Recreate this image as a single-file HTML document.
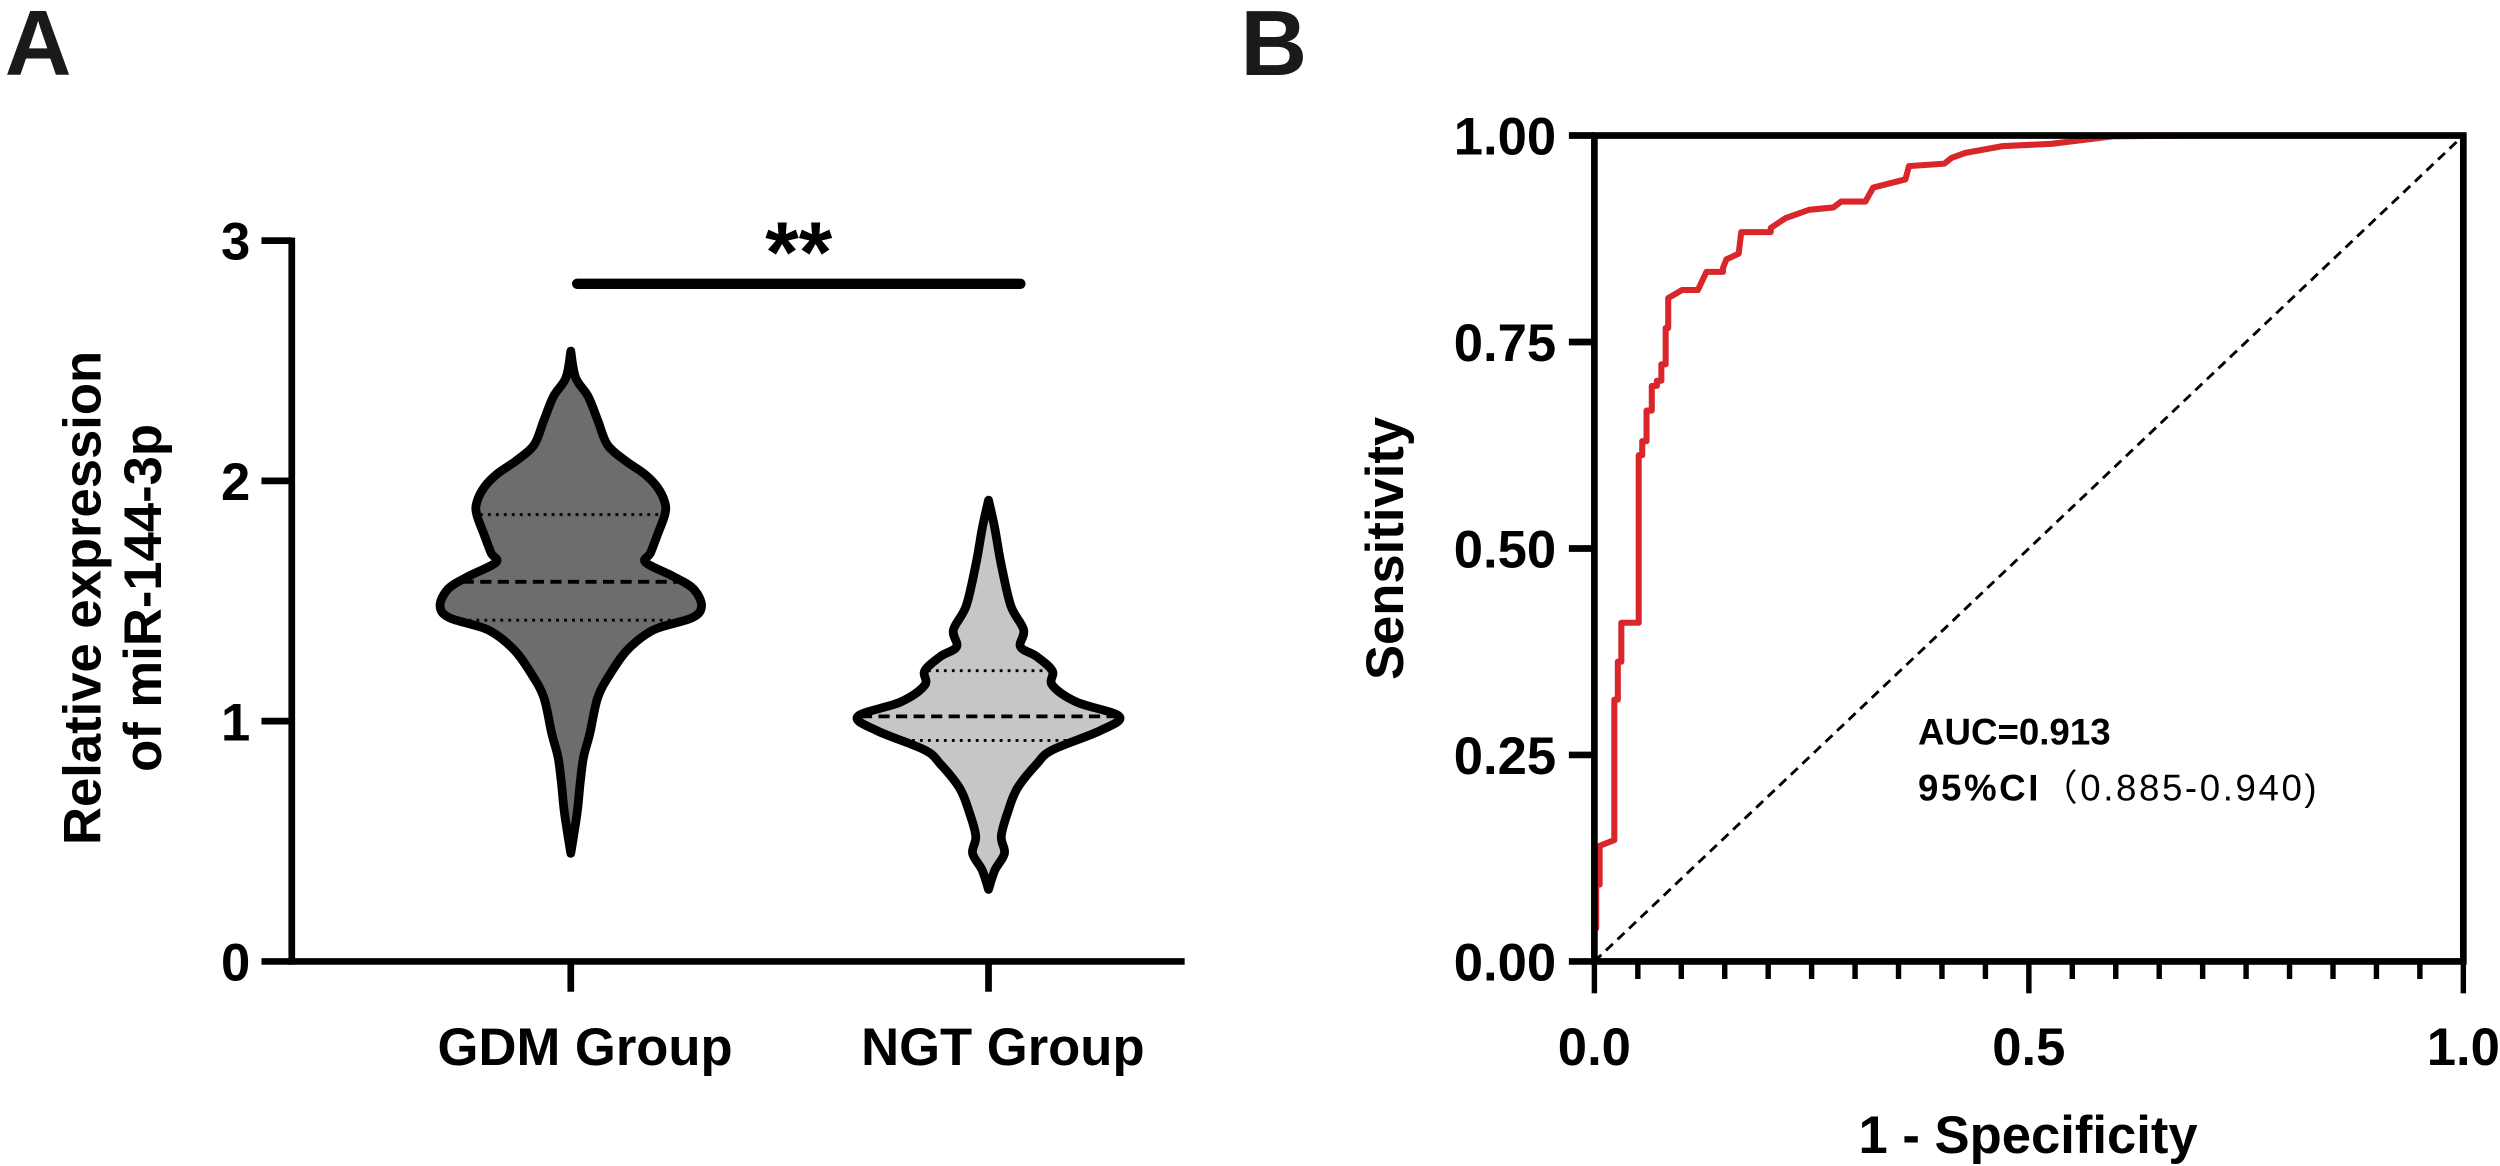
<!DOCTYPE html>
<html><head><meta charset="utf-8"><style>
html,body{margin:0;padding:0;background:#fff;}
svg{display:block;font-family:"Liberation Sans",Arial,sans-serif;}
</style></head><body>
<svg id="fig" width="2500" height="1166" viewBox="0 0 1568 731.3" preserveAspectRatio="none" xmlns="http://www.w3.org/2000/svg">
<text x="3" y="47" font-size="58" font-weight="bold" fill="#1a1a1a">A</text>
<text x="778" y="47" font-size="58" font-weight="bold" fill="#1a1a1a">B</text>
<g id="pa"></g>
<g id="pb"></g>
</svg>
<script>
// ---- Panel A data ----
const groups = ["GDM Group", "NGT Group"];
const gdmValues = [2.54,2.43,2.35,2.25,2.15,2.085,2.03,1.976,1.91,1.86,1.77,1.70,1.66,1.60,1.55,1.48,1.43,1.38,1.30,1.20,1.10,0.95,0.85,0.75,0.62,0.45];
const gdmDensity = [0,3,11,17,23,34,46,54,59,59,54,50,47,65,77,82,76,52,36,25,17,12,8,6,4,0];
const ngtValues = [1.92,1.80,1.65,1.48,1.38,1.31,1.27,1.21,1.15,1.08,1.02,0.96,0.88,0.82,0.72,0.62,0.52,0.45,0.38,0.30];
const ngtDensity = [0,4,8,14,22,20,30,40,40,55,82,70,40,30,18,12,8,10,4,0];
const gdmQuartiles = [1.42,1.58,1.86];
const ngtQuartiles = [0.92,1.02,1.21];
const yTicksA = [0,1,2,3];
// ---- Panel B data ----
const rocFpr = [0,0,0.002,0.002,0.006,0.006,0.023,0.023,0.027,0.027,0.031,0.031,0.051,0.051,0.055,0.055,0.060,0.060,0.066,0.066,0.072,0.072,0.077,0.077,0.082,0.082,0.085,0.085,0.101,0.119,0.129,0.148,0.148,0.152,0.166,0.166,0.169,0.203,0.203,0.220,0.247,0.275,0.284,0.312,0.321,0.358,0.362,0.403,0.411,0.427,0.469,0.526,0.596,0.70,1.0];
const rocTpr = [0,0.04,0.04,0.093,0.093,0.140,0.147,0.317,0.317,0.363,0.363,0.41,0.41,0.613,0.613,0.63,0.63,0.667,0.667,0.697,0.697,0.703,0.703,0.723,0.723,0.767,0.767,0.803,0.813,0.813,0.835,0.835,0.840,0.850,0.857,0.857,0.883,0.883,0.888,0.900,0.910,0.913,0.920,0.920,0.937,0.947,0.963,0.966,0.973,0.979,0.987,0.990,0.999,1.0,1.0];
const yTicksB = ["0.00","0.25","0.50","0.75","1.00"];
const xTicksB = ["0.0","0.5","1.0"];

const NS="http://www.w3.org/2000/svg";
function mk(parent,tag,attrs,text){const e=document.createElementNS(NS,tag);for(const k in attrs)e.setAttribute(k,attrs[k]);if(text!==undefined)e.textContent=text;parent.appendChild(e);return e;}
const FS=33;

// Panel A
const pa=document.getElementById('pa');
const ayA=v=>603-v*150.7;
const cx=[358,620];
let e;
e=mk(pa,'line',{x1:183,y1:149,x2:183,y2:605,stroke:'#000','stroke-width':4.2});

e=mk(pa,'line',{x1:181,y1:603,x2:743,y2:603,stroke:'#000','stroke-width':4.2});

yTicksA.forEach(t=>{
  e=mk(pa,'line',{x1:164,y1:ayA(t),x2:183,y2:ayA(t),stroke:'#000','stroke-width':4.2});
  
  e=mk(pa,'text',{x:157,y:ayA(t)+12,'font-size':FS,'font-weight':'bold','text-anchor':'end'},String(t));
  
});
groups.forEach((g,i)=>{
  e=mk(pa,'line',{x1:cx[i],y1:603,x2:cx[i],y2:622,stroke:'#000','stroke-width':4.2});
  
  e=mk(pa,'text',{x:cx[i]+9,y:668,'font-size':FS,'font-weight':'bold','text-anchor':'middle'},g);
  
});
e=mk(pa,'text',{transform:'translate(63,375) rotate(-90)','font-size':FS,'font-weight':'bold','text-anchor':'middle'},'Relative  expression');

e=mk(pa,'text',{transform:'translate(101,375) rotate(-90)','font-size':FS,'font-weight':'bold','text-anchor':'middle'},'of miR-144-3p');


function hwAt(vals,dens,v){for(let i=0;i<vals.length-1;i++){if(v<=vals[i]&&v>=vals[i+1]){const t=(vals[i]-v)/(vals[i]-vals[i+1]);return dens[i]+t*(dens[i+1]-dens[i]);}}return 0;}
function smoothPath(p){ // catmull-rom -> bezier
  let d='M'+p[0][0].toFixed(1)+','+p[0][1].toFixed(1);
  for(let i=0;i<p.length-1;i++){
    const p0=p[Math.max(0,i-1)],p1=p[i],p2=p[i+1],p3=p[Math.min(p.length-1,i+2)];
    const c1=[p1[0]+(p2[0]-p0[0])/6,p1[1]+(p2[1]-p0[1])/6];
    const c2=[p2[0]-(p3[0]-p1[0])/6,p2[1]-(p3[1]-p1[1])/6];
    d+='C'+c1[0].toFixed(1)+','+c1[1].toFixed(1)+' '+c2[0].toFixed(1)+','+c2[1].toFixed(1)+' '+p2[0].toFixed(1)+','+p2[1].toFixed(1);
  }
  return d;
}
function violin(vals,dens,quarts,c,fill,name){
  const right=vals.map((v,i)=>[c+dens[i],ayA(v)]);
  const left=vals.map((v,i)=>[c-dens[i],ayA(v)]).reverse();
  const d=smoothPath(right)+smoothPath(left).replace('M','L')+'Z';
  e=mk(pa,'path',{d:d,fill:fill,stroke:'none'});
  
  quarts.forEach((q,j)=>{
    const hw=hwAt(vals,dens,q)-2;
    e=mk(pa,'line',{x1:c-hw,y1:ayA(q),x2:c+hw,y2:ayA(q),stroke:'#000','stroke-width':j===1?2.4:1.8,'stroke-dasharray':j===1?'7,4':'1.8,3.2'});
    
  });
  e=mk(pa,'path',{d:d,fill:'none',stroke:'#000','stroke-width':5.5,'stroke-linejoin':'round'});
  
}
violin(gdmValues,gdmDensity,gdmQuartiles,cx[0],'#6d6d6d','gdm');
violin(ngtValues,ngtDensity,ngtQuartiles,cx[1],'#c6c6c6','ngt');
e=mk(pa,'line',{x1:362,y1:178,x2:640,y2:178,stroke:'#000','stroke-width':6.5,'stroke-linecap':'round'});

e=mk(pa,'text',{x:501,y:177,'font-size':54,'font-weight':'bold','text-anchor':'middle'},'**');


// Panel B
const pb=document.getElementById('pb');
const X0=1000,X1=1545,Y0=603,Y1=85;
const bx=v=>X0+v*(X1-X0), by=v=>Y0-v*(Y0-Y1);
e=mk(pb,'line',{x1:bx(0),y1:by(0),x2:bx(1),y2:by(1),stroke:'#000','stroke-width':1.8,'stroke-dasharray':'6,4'});

const rd='M'+rocFpr.map((f,i)=>bx(f).toFixed(1)+','+by(rocTpr[i]).toFixed(1)).join('L');
e=mk(pb,'path',{d:rd,fill:'none',stroke:'#d9262b','stroke-width':3.8,'stroke-linejoin':'round'});

e=mk(pb,'rect',{x:X0,y:Y1,width:X1-X0,height:Y0-Y1,fill:'none',stroke:'#000','stroke-width':4.2});

yTicksB.forEach(t=>{
  const y=by(parseFloat(t));
  e=mk(pb,'line',{x1:984,y1:y,x2:X0,y2:y,stroke:'#000','stroke-width':4.2});
  
  e=mk(pb,'text',{x:976,y:y+12,'font-size':FS,'font-weight':'bold','text-anchor':'end'},t);
  
});
for(let k=0;k<=20;k++){
  const major=(k%10===0);
  e=mk(pb,'line',{x1:bx(k/20),y1:Y0,x2:bx(k/20),y2:Y0+(major?20:11),stroke:'#000','stroke-width':3.4});
  
}
xTicksB.forEach(t=>{
  e=mk(pb,'text',{x:bx(parseFloat(t)),y:668,'font-size':FS,'font-weight':'bold','text-anchor':'middle'},t);
  
});
e=mk(pb,'text',{x:1272,y:723,'font-size':FS,'font-weight':'bold','text-anchor':'middle'},'1 - Specificity');

e=mk(pb,'text',{transform:'translate(880,344) rotate(-90)','font-size':FS,'font-weight':'bold','text-anchor':'middle'},'Sensitivity');

e=mk(pb,'text',{x:1203,y:467,'font-size':23,'font-weight':'bold'},'AUC=0.913');

e=mk(pb,'text',{x:1203,y:502,'font-size':23,'textLength':250,'lengthAdjust':'spacing','font-family':'"Liberation Sans","Noto Sans CJK SC",sans-serif'});

mk(e,'tspan',{'font-weight':'bold'},'95%CI');
mk(e,'tspan',{},'（0.885-0.940)');
</script>
</body></html>
